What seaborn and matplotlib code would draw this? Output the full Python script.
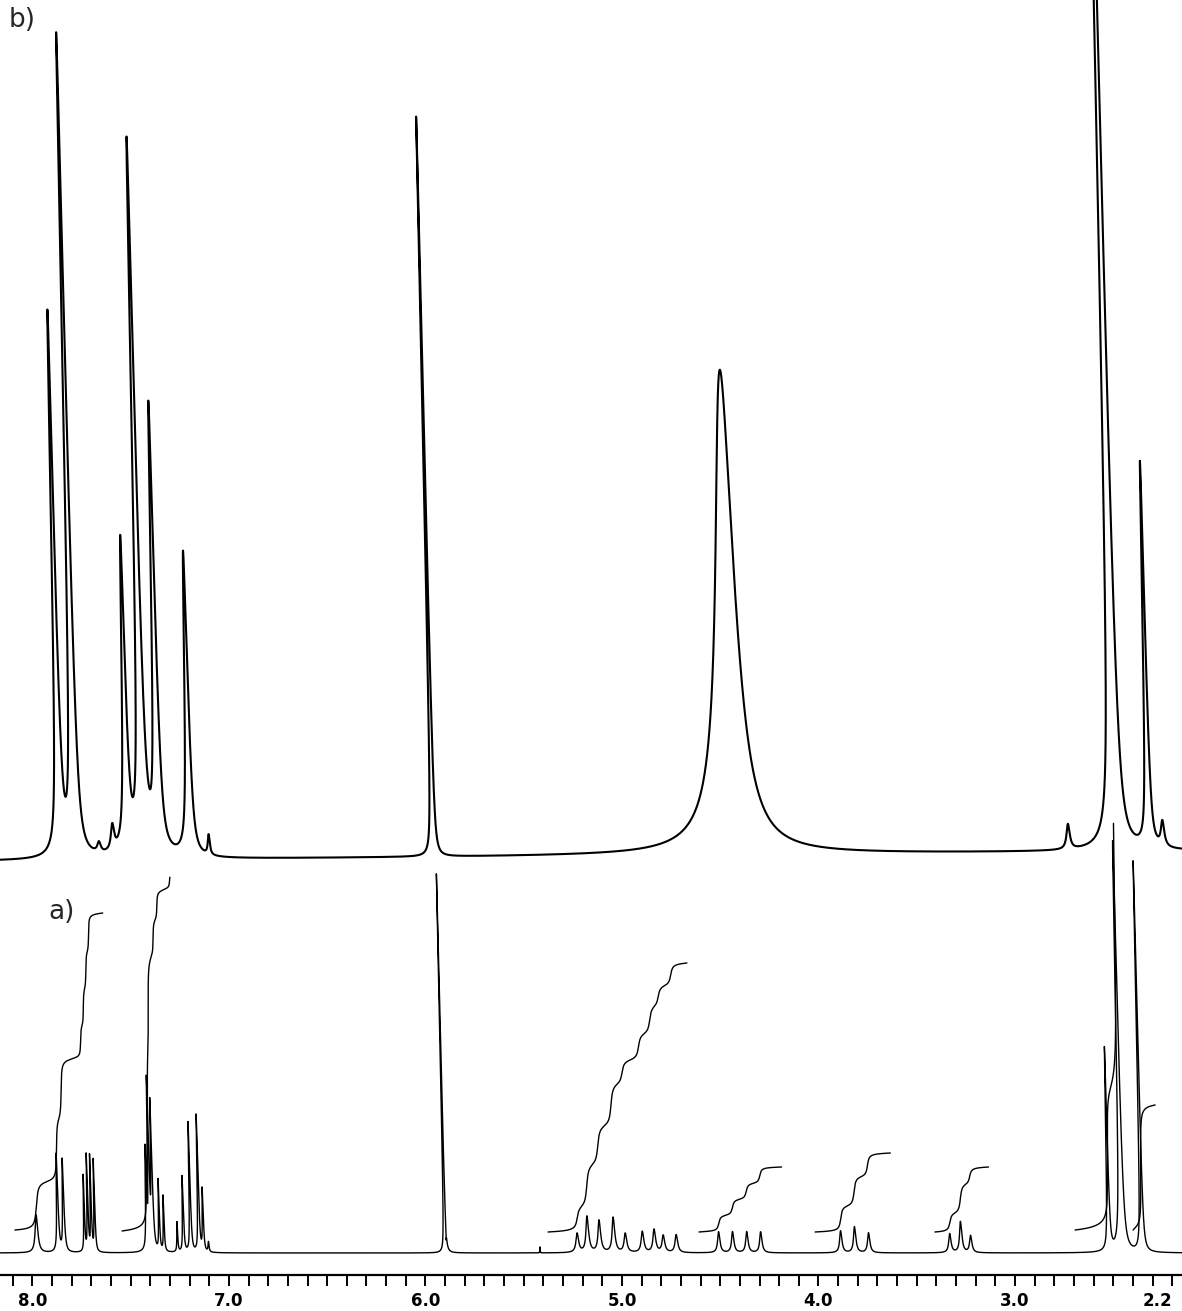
import numpy as np
import pandas as pd
import matplotlib
matplotlib.use("Agg")
import matplotlib.pyplot as plt
import matplotlib.transforms as mtransforms
import seaborn as sns

# ---------------- axis ----------------
PPM_LEFT, PPM_RIGHT = 8.165, 2.150
TICK_LABEL_POS = [8.0, 7.0, 6.0, 5.0, 4.0, 3.0, 2.2]
TICK_LABELS = ["8.0", "7.0", "6.0", "5.0", "4.0", "3.0", "2.2"]

# ---------------- spectrum a (peak list: ppm, height, fwhm ppm) ----------------
A_PPM = [7.977, 7.868, 7.838, 7.733, 7.715, 7.698, 7.680,
         7.415, 7.400, 7.385, 7.352, 7.329, 7.261, 7.230, 7.193, 7.151, 7.129, 7.103,
         5.900, 5.893, 5.417,
         5.226, 5.174, 5.113, 5.041, 4.981, 4.894, 4.834, 4.788, 4.722,
         4.506, 4.435, 4.363, 4.292,
         3.885, 3.814, 3.743,
         3.330, 3.274, 3.224,
         2.521, 2.455, 2.353]
A_H = [38, 98, 93, 76, 96, 95, 92,
       98, 165, 145, 71, 56, 30, 76, 130, 137, 63, 10,
       380, -15, 6,
       19, 36, 32, 35, 19, 21, 23, 17, 18,
       21, 21, 21, 21,
       22, 26, 20,
       19, 31, 17,
       203, 411, 391]
A_W = [0.016, 0.008, 0.008, 0.005, 0.005, 0.005, 0.005,
       0.007, 0.007, 0.007, 0.005, 0.005, 0.005, 0.006, 0.006, 0.006, 0.006, 0.006,
       0.004, 0.002, 0.002,
       0.016, 0.016, 0.016, 0.016, 0.016, 0.016, 0.016, 0.016, 0.016,
       0.014, 0.014, 0.014, 0.014,
       0.014, 0.014, 0.014,
       0.014, 0.014, 0.014,
       0.008, 0.012, 0.007]

# ---------------- spectrum b ----------------
B_PPM = [7.860, 7.783, 7.660, 7.590, 7.516, 7.437, 7.357, 7.198, 7.101,
         5.961, 4.445, 2.727, 2.491, 2.318, 2.246]
B_H = [540, 820, 10, 25, 310, 710, 445, 305, 20,
       740, 485, 25, 1400, 385, 25]
B_W = [0.017, 0.017, 0.02, 0.02, 0.02, 0.02, 0.02, 0.02, 0.012,
       0.007, 0.112, 0.02, 0.02, 0.014, 0.02]

# ---------------- integrals of spectrum a ----------------
INT_START = [8.089, 7.544, 5.376, 4.608, 4.017, 3.407, 2.694, 2.399]
INT_END = [7.605, 7.085, 4.638, 4.180, 3.625, 3.127, 2.414, 2.272]
INT_BASE_PX = [1230, 1231, 1232, 1232, 1232, 1232, 1230, 1230]
INT_RISE_PX = [317, 600, 269, 65, 79, 65, 520, 125]
INT_CLIP_PX = [None, 877, None, None, None, None, 822, None]

# ---------------- layout constants ----------------
H_PX = 1275            # axis line position from top (pixels)
BASE_A_PX = 1253
BASE_B_LEFT_PX, BASE_B_RIGHT_PX = 861, 851
SLANT = 0.023          # pen-plot lean (px per px)
PX_PER_PPM = 196.5


def lorentz_sum(x, centers, heights, widths):
    y = np.zeros_like(x)
    for c, h, w in zip(centers, heights, widths):
        g = w / 2.0
        y += h / (1.0 + ((x - c) / g) ** 2)
    return y


sns.set_style("white")
plt.rcParams["font.family"] = ["DejaVu Sans"]

fig = plt.figure(figsize=(11.82, 13.11), dpi=100)
ax = fig.add_axes([0, (1311 - H_PX) / 1311, 1, H_PX / 1311])
ax.set_xlim(PPM_LEFT, PPM_RIGHT)
ax.set_ylim(0, H_PX)

grid = np.linspace(PPM_LEFT, PPM_RIGHT, 30000)

# baselines in data units (px above the axis line)
yb_a = H_PX - BASE_A_PX
yb_b_left = H_PX - BASE_B_LEFT_PX
yb_b_right = H_PX - BASE_B_RIGHT_PX
yb_b = yb_b_left + (yb_b_right - yb_b_left) * (PPM_LEFT - grid) / (PPM_LEFT - PPM_RIGHT)
yb_b_mean = 0.5 * (yb_b_left + yb_b_right)


def skew_transform(yb):
    c = SLANT / PX_PER_PPM
    m = np.array([[1.0, c, -c * yb], [0.0, 1.0, 0.0], [0.0, 0.0, 1.0]])
    return mtransforms.Affine2D(m) + ax.transData


spec_a = lorentz_sum(grid, A_PPM, A_H, A_W)
spec_b = lorentz_sum(grid, B_PPM, B_H, B_W)

df_b = pd.DataFrame({"ppm": grid, "y": yb_b + spec_b})
sns.lineplot(data=df_b, x="ppm", y="y", ax=ax, color="black", lw=1.5,
             sort=False, estimator=None)
ax.lines[-1].set_transform(skew_transform(yb_b_mean))

df_a = pd.DataFrame({"ppm": grid, "y": yb_a + spec_a})
sns.lineplot(data=df_a, x="ppm", y="y", ax=ax, color="black", lw=1.0,
             sort=False, estimator=None)
ax.lines[-1].set_transform(skew_transform(yb_a))

# integrals
for s, e, b, r, clip in zip(INT_START, INT_END, INT_BASE_PX, INT_RISE_PX, INT_CLIP_PX):
    m = (grid <= s) & (grid >= e)
    xs = grid[m]
    vals = spec_a[m]
    cum = np.concatenate([[0.0], np.cumsum(0.5 * (vals[1:] + vals[:-1]) * np.abs(np.diff(xs)))])
    cum = cum / cum[-1] * r
    ys = (H_PX - b) + cum
    if clip is not None:
        keep = ys <= (H_PX - clip)
        xs, ys = xs[keep], ys[keep]
    sns.lineplot(x=xs, y=ys, ax=ax, color="black", lw=1.0, sort=False, estimator=None)
    ax.lines[-1].set_transform(skew_transform(H_PX - b))

# axis styling
for sp in ["top", "left", "right"]:
    ax.spines[sp].set_visible(False)
ax.spines["bottom"].set_linewidth(1.6)
ax.spines["bottom"].set_color("black")
ticks = np.round(np.arange(2.2, 8.11, 0.1), 1)
ax.set_xticks(ticks)
labels = []
for t in ticks:
    lab = ""
    for p, l in zip(TICK_LABEL_POS, TICK_LABELS):
        if abs(t - p) < 1e-6:
            lab = l
    labels.append(lab)
ax.set_xticklabels(labels, fontsize=12, fontweight="bold")
ax.tick_params(axis="x", which="both", bottom=True, direction="out", length=8,
               width=1.4, pad=4, colors="black")
for tl in ax.get_xticklabels():
    if tl.get_text() == "2.2":
        tl.set_horizontalalignment("right")
ax.set_yticks([])
ax.set_xlabel("")
ax.set_ylabel("")

ax.text(PPM_LEFT - 22 / PX_PER_PPM, H_PX - 20, "b)", fontsize=19, ha="center", va="center")
ax.text(PPM_LEFT - 62 / PX_PER_PPM, H_PX - 912, "a)", fontsize=19, ha="center", va="center")

fig.savefig("out.png", dpi=100, facecolor="white")
